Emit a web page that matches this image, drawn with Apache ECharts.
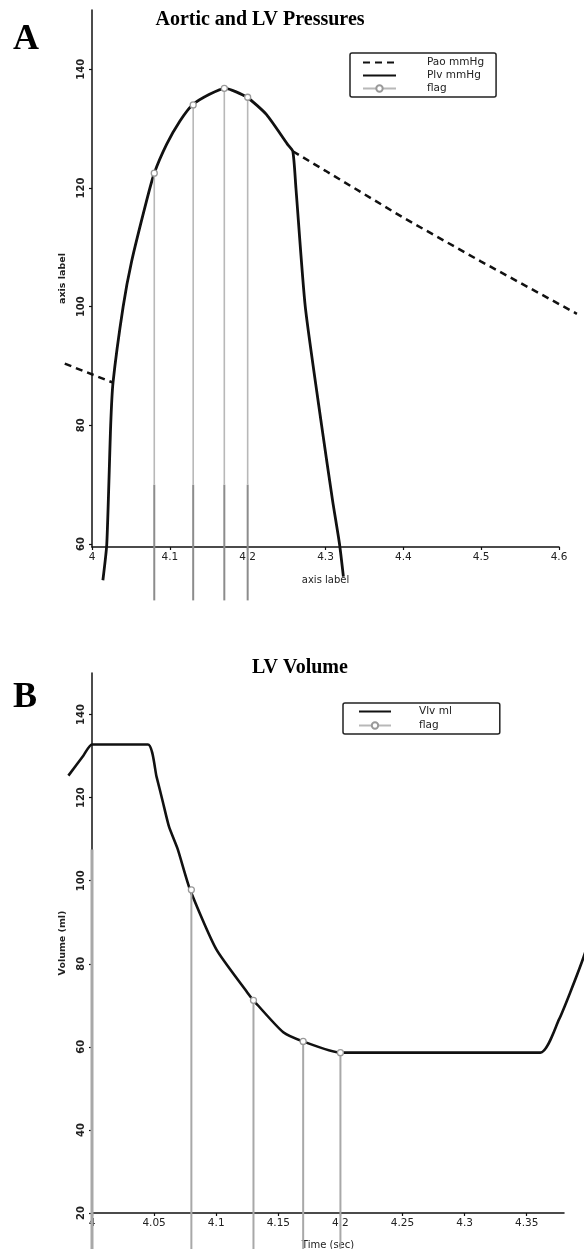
<!DOCTYPE html>
<html>
<head>
<meta charset="utf-8">
<script src="https://cdn.jsdelivr.net/npm/echarts@6/dist/echarts.min.js"></script>
<style>
html,body{margin:0;padding:0;background:#fff}
#chart{width:584px;height:1249px}
</style>
</head>
<body>
<div id="chart"></div>
<script>
// panel A : aortic and LV pressures
var plvTime  = [4.014, 4.019, 4.024, 4.027, 4.040, 4.051, 4.070, 4.080, 4.096, 4.113, 4.129, 4.151, 4.171, 4.199, 4.224, 4.251, 4.258, 4.262, 4.274, 4.295, 4.309, 4.318, 4.323];
var plvValue = [53.9, 60, 80, 87.2, 100, 107.7, 117.8, 122.5, 127.4, 131.3, 134, 135.8, 136.8, 135.3, 132.4, 127.4, 126.2, 120, 100, 80, 67.4, 60, 54.5];
// during ejection Pao lies under Plv and cannot be read ('-')
var paoTime  = [3.965, 4.027, 4.140, 4.258, 4.300, 4.400, 4.500, 4.623];
var paoValue = [90.4, 87.2, '-', 126.2, 122.9, 115.0, 107.6, 98.8];
var flagTimeA = [4.08, 4.13, 4.17, 4.2];
var flagTopA  = [122.5, 134, 136.8, 135.3];
var flagMidA = 70;
var flagEndA = 50.5;
var xTicksA = [4, 4.1, 4.2, 4.3, 4.4, 4.5, 4.6];
var yTicksA = [60, 80, 100, 120, 140];

// panel B : LV volume
var vlvTime  = [3.981, 3.993, 4.000, 4.045, 4.052, 4.057, 4.062, 4.069, 4.079, 4.100, 4.125, 4.130, 4.154, 4.170, 4.200, 4.361, 4.376, 4.385, 4.396, 4.410];
var vlvValue = [125.3, 130.1, 132.8, 132.8, 125, 119, 113, 107.6, 97.8, 83.5, 73.1, 71.2, 63.5, 61.3, 58.6, 58.6, 66.6, 73.1, 81.8, 95];
var flagTimeB = [4.0, 4.08, 4.13, 4.17, 4.2];
var flagTopB  = [107.5, 97.8, 71.2, 61.3, 58.6];
var flagDotB  = [false, true, true, true, true];
var flagEndB = 11;
var xTicksB = [4, 4.05, 4.1, 4.15, 4.2, 4.25, 4.3, 4.35];
var yTicksB = [20, 40, 60, 80, 100, 120, 140];

function zip(a, b) {
    var out = [];
    for (var i = 0; i < a.length; i++) out.push([a[i], b[i]]);
    return out;
}
function fmt(v) { return String(+(+v).toFixed(2)); }

// visible axes span; data is drawn on a wider hidden grid with the same scale
var boxA = {left: 92, right: 559, top: 10, bottom: 547, xmin: 4, xmax: 4.6, ymin: 59.5, ymax: 150};
var boxB = {left: 92, right: 564, top: 673, bottom: 1213, xmin: 4, xmax: 4.38, ymin: 20, ymax: 150};
var dataRangeA = [3.95, 4.64];
var dataRangeB = [3.97, 4.42];

function boxGrid(b) {
    return {left: b.left, width: b.right - b.left, top: b.top, height: b.bottom - b.top, outerBoundsMode: 'none'};
}
function wideGrid(b, r) {
    var k = (b.right - b.left) / (b.xmax - b.xmin);
    var l = b.left - (b.xmin - r[0]) * k;
    return {left: l, width: (r[1] - r[0]) * k, top: b.top, height: b.bottom - b.top, outerBoundsMode: 'none'};
}

var chart = echarts.init(document.getElementById('chart'), null, {renderer: 'canvas'});

function xAxis(idx, b, ticks, name, gap) {
    return {
        type: 'value', gridIndex: idx, min: b.xmin, max: b.xmax,
        name: name, nameLocation: 'middle', nameGap: gap,
        nameTextStyle: {fontFamily: 'DejaVu Sans', fontSize: 10, color: '#222'},
        axisLine: {onZero: false, lineStyle: {color: '#111', width: 1.5}},
        axisTick: {length: 3, customValues: ticks, lineStyle: {color: '#111', width: 1.2}},
        axisLabel: {customValues: ticks, formatter: fmt, margin: 5,
            fontFamily: 'DejaVu Sans', fontSize: 10.5, color: '#222'},
        splitLine: {show: false}
    };
}
function yAxis(idx, b, ticks, name) {
    return {
        type: 'value', gridIndex: idx, min: b.ymin, max: b.ymax,
        name: name, nameLocation: 'middle', nameGap: 24, nameRotate: 90,
        nameTextStyle: {fontFamily: 'DejaVu Sans', fontSize: 9.5, fontWeight: 'bold', color: '#222'},
        axisLine: {onZero: false, lineStyle: {color: '#111', width: 1.5}},
        axisTick: {length: 3, customValues: ticks, lineStyle: {color: '#111', width: 1.2}},
        axisLabel: {customValues: ticks, rotate: 90, margin: 6,
            fontFamily: 'DejaVu Sans', fontSize: 10, fontWeight: 'bold', color: '#222'},
        splitLine: {show: false}
    };
}
function hiddenX(idx, r) { return {type: 'value', gridIndex: idx, min: r[0], max: r[1], show: false, splitLine: {show: false}}; }
function hiddenY(idx, b) { return {type: 'value', gridIndex: idx, min: b.ymin, max: b.ymax, show: false, splitLine: {show: false}}; }

var series = [
    {name: 'Pao mmHg', type: 'line', xAxisIndex: 2, yAxisIndex: 2, data: zip(paoTime, paoValue),
     symbol: 'none', clip: false, connectNulls: false, itemStyle: {color: '#111'},
     lineStyle: {color: '#111', width: 2.5, type: [7, 5]}, z: 3},
    {name: 'Plv mmHg', type: 'line', xAxisIndex: 2, yAxisIndex: 2, data: zip(plvTime, plvValue),
     symbol: 'none', clip: false, smooth: 0.2, itemStyle: {color: '#111'},
     lineStyle: {color: '#111', width: 2.8}, z: 4},
    {name: 'Vlv ml', type: 'line', xAxisIndex: 3, yAxisIndex: 3, data: zip(vlvTime, vlvValue),
     symbol: 'none', clip: false, smooth: 0.2, itemStyle: {color: '#111'},
     lineStyle: {color: '#111', width: 2.6}, z: 4}
];

// flags of panel A: light upper part with a circle, darker lower part
for (var i = 0; i < flagTimeA.length; i++) {
    series.push({
        name: 'flag', type: 'line', xAxisIndex: 2, yAxisIndex: 2, clip: false, z: 5,
        symbol: 'circle', symbolSize: 6,
        itemStyle: {color: '#fff', borderColor: '#999', borderWidth: 1.3},
        lineStyle: {color: '#b8b8b8', width: 1.6},
        data: [{value: [flagTimeA[i], flagTopA[i]]}, {value: [flagTimeA[i], flagMidA], symbol: 'none'}]
    });
    series.push({
        name: 'flag', type: 'line', xAxisIndex: 2, yAxisIndex: 2, clip: false, z: 2,
        symbol: 'none', lineStyle: {color: '#8c8c8c', width: 2},
        data: [[flagTimeA[i], flagMidA], [flagTimeA[i], flagEndA]]
    });
}
// flags of panel B
for (var j = 0; j < flagTimeB.length; j++) {
    series.push({
        name: 'flag', type: 'line', xAxisIndex: 3, yAxisIndex: 3, clip: false, z: flagDotB[j] ? 5 : 1,
        symbol: 'circle', symbolSize: 6,
        itemStyle: {color: '#fff', borderColor: '#999', borderWidth: 1.3},
        lineStyle: {color: '#a8a8a8', width: flagDotB[j] ? 2 : 3},
        data: [{value: [flagTimeB[j], flagTopB[j]], symbol: flagDotB[j] ? 'circle' : 'none'},
               {value: [flagTimeB[j], flagEndB], symbol: 'none'}]
    });
}

var legendText = {fontFamily: 'DejaVu Sans', fontSize: 10.5, color: '#222', lineHeight: 13};
var noDot = {opacity: 0};

var option = {
    animation: false,
    backgroundColor: '#fff',
    grid: [boxGrid(boxA), boxGrid(boxB), wideGrid(boxA, dataRangeA), wideGrid(boxB, dataRangeB)],
    xAxis: [
        xAxis(0, boxA, xTicksA, 'axis label', 28),
        xAxis(1, boxB, xTicksB, 'Time (sec)', 27),
        hiddenX(2, dataRangeA),
        hiddenX(3, dataRangeB)
    ],
    yAxis: [
        yAxis(0, boxA, yTicksA, 'axis label'),
        yAxis(1, boxB, yTicksB, 'Volume (ml)'),
        hiddenY(2, boxA),
        hiddenY(3, boxB)
    ],
    legend: [
        {data: [{name: 'Pao mmHg', itemStyle: noDot}, {name: 'Plv mmHg', itemStyle: noDot}, 'flag'],
         orient: 'vertical', left: 350, top: 53,
         itemWidth: 33, itemHeight: 8, itemGap: 0, padding: [3, 12, 2, 12],
         borderColor: '#222', borderWidth: 1.5, borderRadius: 2,
         textStyle: Object.assign({padding: [0, 0, 0, 26]}, legendText)},
        {data: [{name: 'Vlv ml', itemStyle: noDot}, 'flag'], orient: 'vertical', left: 343, top: 703,
         itemWidth: 32, itemHeight: 8, itemGap: 1, padding: [2, 48, 2, 15],
         borderColor: '#222', borderWidth: 1.5, borderRadius: 2,
         textStyle: Object.assign({padding: [0, 0, 0, 23]}, legendText)}
    ],
    graphic: [
        {type: 'text', left: 13, top: 22, style: {text: 'A', font: 'bold 36px "Liberation Serif"', fill: '#000'}},
        {type: 'text', left: 13, top: 680, style: {text: 'B', font: 'bold 36px "Liberation Serif"', fill: '#000'}},
        {type: 'text', x: 260, y: 20, style: {text: 'Aortic and LV Pressures', font: 'bold 20px "Liberation Serif"',
            fill: '#000', align: 'center', verticalAlign: 'middle'}},
        {type: 'text', x: 300, y: 668, style: {text: 'LV Volume', font: 'bold 20px "Liberation Serif"',
            fill: '#000', align: 'center', verticalAlign: 'middle'}}
    ],
    series: series
};
chart.setOption(option);
</script>
</body>
</html>
